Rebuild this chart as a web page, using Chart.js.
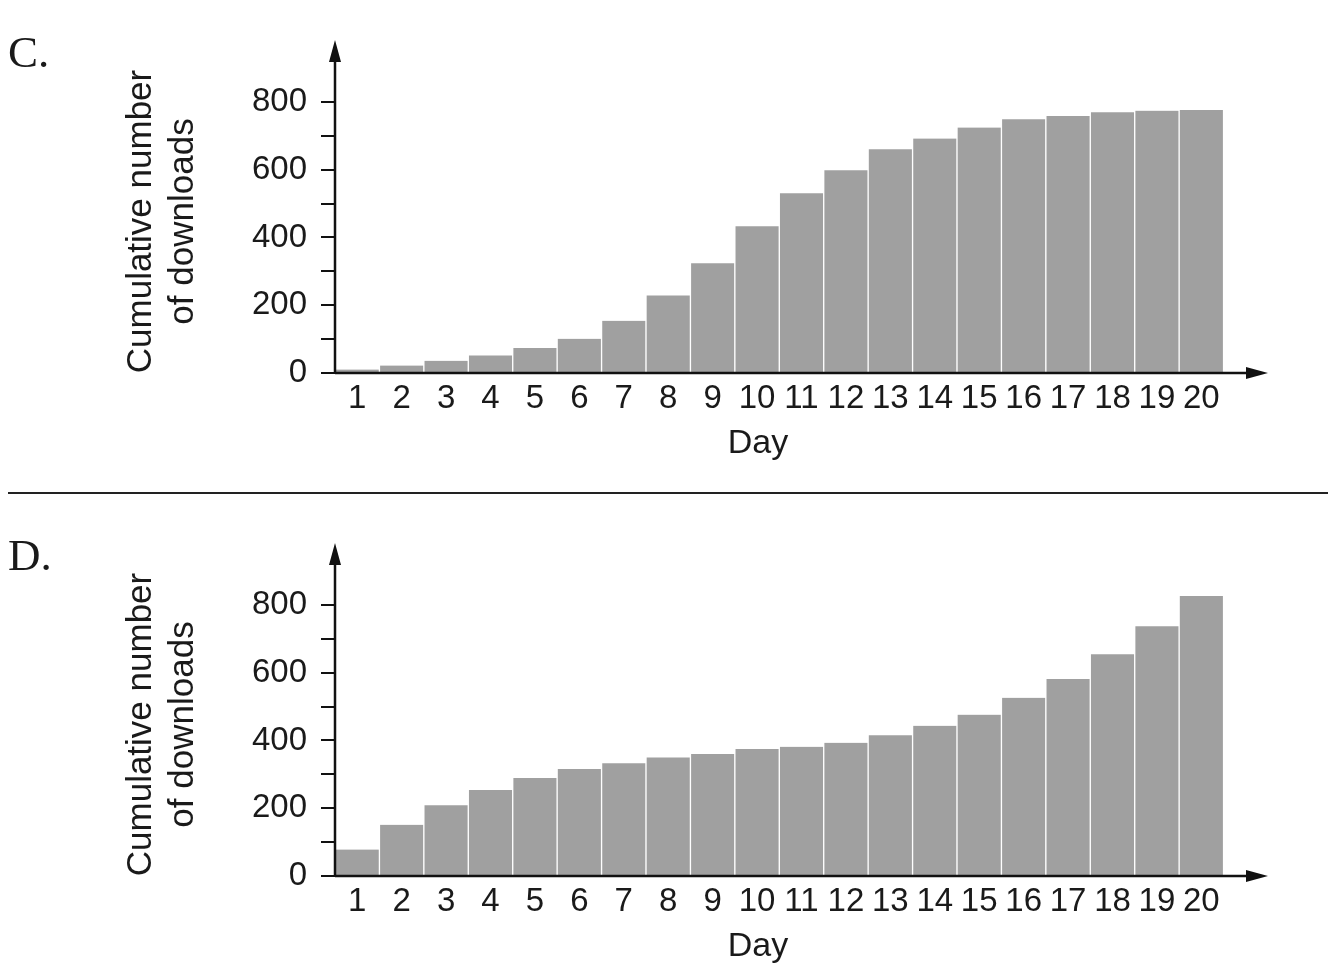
<!DOCTYPE html>
<html><head><meta charset="utf-8">
<script src="https://cdn.jsdelivr.net/npm/chart.js@4.4.1/dist/chart.umd.min.js"></script>
<style>
html,body{margin:0;padding:0;background:#fff;}
body{width:1342px;height:976px;position:relative;overflow:hidden;}
.panel{position:absolute;left:0;width:1342px;height:473px;}
.lbl{position:absolute;left:8px;font-family:'Liberation Serif','Times New Roman',serif;font-size:45px;color:#1a1a1a;line-height:1;}
.xt{position:absolute;left:658px;width:200px;text-align:center;font-family:'Liberation Sans',Arial,sans-serif;font-size:34px;color:#1a1a1a;line-height:1;}
.sep{position:absolute;left:8px;width:1320px;top:492px;height:2px;background:#222;}
</style></head><body>
<div class="panel" style="top:0"><canvas id="chartC" width="1342" height="473"></canvas></div>
<div class="lbl" style="top:30px">C.</div>
<div class="xt" id="xtC" style="top:424px"></div>
<div class="sep"></div>
<div class="panel" style="top:503px"><canvas id="chartD" width="1342" height="473"></canvas></div>
<div class="lbl" style="top:533px">D.</div>
<div class="xt" id="xtD" style="top:927px"></div>
<script>
const days = [1,2,3,4,5,6,7,8,9,10,11,12,13,14,15,16,17,18,19,20];
const cValues = [10,22,36,52,74,101,154,229,324,433,530,598,660,692,724,749,758,769,774,776];
const dValues = [78,151,209,254,289,316,333,350,360,375,381,393,415,443,476,526,581,654,737,826];
const yTicks = [0,100,200,300,400,500,600,700,800];
const yLabelEvery = 200;
const yTitle = ['Cumulative number','of downloads'];
const xTitle = 'Day';

document.getElementById('xtC').textContent = xTitle;
document.getElementById('xtD').textContent = xTitle;

const FONT = "'Liberation Sans',Arial,sans-serif";
const INK = '#1a1a1a';
const BAR = '#a0a0a0';

const axisArrows = {
  id: 'axisArrows',
  afterDatasetsDraw(chart, args, opts) {
    const {ctx, chartArea: a, scales: {x, y}} = chart;
    const y0 = y.getPixelForValue(0);
    const x0 = x.getPixelForValue(x.min);
    const top = a.top - opts.extend;
    ctx.save();
    ctx.strokeStyle = '#111'; ctx.fillStyle = '#111';
    ctx.lineWidth = 2.5;
    ctx.beginPath(); ctx.moveTo(x0, y0); ctx.lineTo(a.right - 16, y0); ctx.stroke();
    ctx.beginPath(); ctx.moveTo(a.right, y0); ctx.lineTo(a.right - 22, y0 - 6); ctx.lineTo(a.right - 22, y0 + 6); ctx.closePath(); ctx.fill();
    ctx.beginPath(); ctx.moveTo(x0, y0 + 1); ctx.lineTo(x0, top + 16); ctx.stroke();
    ctx.beginPath(); ctx.moveTo(x0, top); ctx.lineTo(x0 - 6, top + 22); ctx.lineTo(x0 + 6, top + 22); ctx.closePath(); ctx.fill();
    ctx.restore();
  }
};

function makeChart(id, values) {
  return new Chart(document.getElementById(id), {
    type: 'bar',
    data: {
      datasets: [{
        data: days.map((d, i) => ({x: d, y: values[i]})),
        backgroundColor: BAR,
        borderColor: '#ffffff',
        borderWidth: {left: 1, right: 1, top: 0, bottom: 0},
        borderSkipped: false,
        barPercentage: 1,
        categoryPercentage: 1
      }]
    },
    plugins: [axisArrows],
    options: {
      responsive: false,
      animation: false,
      devicePixelRatio: 1,
      layout: {padding: {left: 120, top: 70, right: 74, bottom: 0}},
      plugins: {legend: {display: false}, tooltip: {enabled: false}, axisArrows: {extend: 30}},
      scales: {
        x: {
          type: 'linear', min: 0.5, max: 21.5, offset: false,
          afterBuildTicks: s => { s.ticks = days.map(v => ({value: v})); },
          afterFit: s => { s.height = 100; },
          grid: {display: false, drawTicks: false},
          border: {display: false},
          ticks: {color: INK, font: {family: FONT, size: 33}, padding: 6, maxRotation: 0, autoSkip: false,
                  callback: v => String(v)},
          title: {display: false}
        },
        y: {
          min: 0, max: 894,
          afterBuildTicks: s => { s.ticks = yTicks.map(v => ({value: v})); },
          afterFit: s => { s.width = 215; },
          grid: {display: true, drawOnChartArea: false, drawTicks: true, tickLength: 14, color: '#111', lineWidth: 2},
          border: {display: false},
          ticks: {color: INK, font: {family: FONT, size: 33}, padding: 14, autoSkip: false,
                  callback: v => (v % yLabelEvery === 0 ? String(v) : '')},
          title: {display: true, text: yTitle, color: INK, font: {family: FONT, size: 35, lineHeight: 1.2}, padding: {top: 0, bottom: 0}}
        }
      }
    }
  });
}
makeChart('chartC', cValues);
makeChart('chartD', dValues);
</script>
</body></html>
